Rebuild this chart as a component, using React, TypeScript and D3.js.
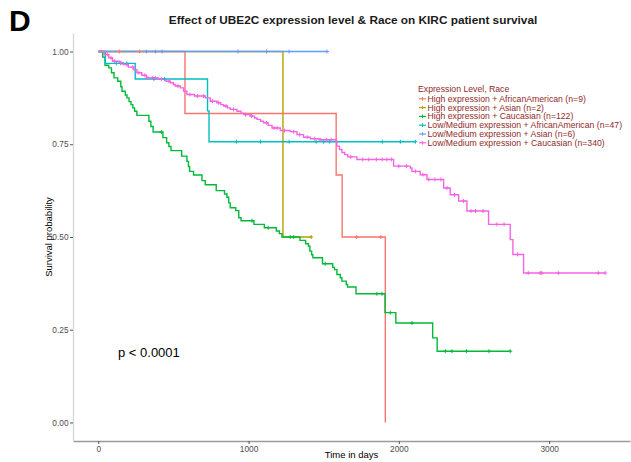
import React, { useRef, useEffect } from "react";
import * as d3 from "d3";

// group labels / colours (ggplot hue palette)
const groups = [
  "High expression + AfricanAmerican (n=9)",
  "High expression + Asian (n=2)",
  "High expression + Caucasian (n=122)",
  "Low/Medium expression + AfricanAmerican (n=47)",
  "Low/Medium expression + Asian (n=6)",
  "Low/Medium expression + Caucasian (n=340)",
];
const colors = ["#F8766D", "#B79F00", "#00BA38", "#00BFC4", "#619CFF", "#F564E3"];

// [time of drop, survival after drop]
const redSteps = [[577, 0.833], [1583, 0.667], [1623, 0.5], [1910, 0]];
const yellowSteps = [[1229, 0.5]];
const greenSteps = [
  [30, 0.985], [45, 0.963], [70, 0.956], [88, 0.943], [105, 0.929], [130, 0.92], [150, 0.905],
  [158, 0.893], [180, 0.883], [191, 0.875], [205, 0.865], [218, 0.857], [230, 0.848], [242, 0.839],
  [257, 0.828], [337, 0.812], [350, 0.798], [365, 0.783], [430, 0.768], [455, 0.754], [470, 0.744],
  [484, 0.733], [555, 0.718], [590, 0.704], [600, 0.69], [608, 0.677], [634, 0.667], [690, 0.652],
  [712, 0.641], [785, 0.625], [840, 0.616], [856, 0.607], [868, 0.592], [878, 0.579], [915, 0.571],
  [935, 0.552], [950, 0.544], [1036, 0.534], [1105, 0.525], [1185, 0.516], [1205, 0.509],
  [1222, 0.5], [1342, 0.491], [1380, 0.482], [1399, 0.475], [1408, 0.462], [1420, 0.452],
  [1428, 0.444], [1492, 0.428], [1560, 0.418], [1572, 0.412], [1588, 0.399], [1610, 0.39],
  [1621, 0.381], [1650, 0.372], [1659, 0.365], [1715, 0.347], [1908, 0.296], [1980, 0.268],
  [2225, 0.228], [2255, 0.192],
];
const cyanSteps = [[47, 0.968], [246, 0.926], [727, 0.84], [737, 0.757]];
const blueSteps: number[][] = [];
const magentaSteps = [
  [40, 0.992], [70, 0.983], [95, 0.974], [140, 0.97], [165, 0.965], [200, 0.958], [235, 0.951],
  [257, 0.943], [290, 0.936], [320, 0.929], [400, 0.925], [450, 0.92], [479, 0.916], [500, 0.911],
  [512, 0.907], [546, 0.902], [568, 0.893], [590, 0.884], [640, 0.88], [712, 0.875], [745, 0.866],
  [790, 0.862], [815, 0.857], [834, 0.853], [860, 0.848], [878, 0.844], [923, 0.839], [950, 0.834],
  [967, 0.83], [1011, 0.826], [1040, 0.821], [1056, 0.817], [1080, 0.812], [1100, 0.808],
  [1130, 0.801], [1156, 0.794], [1211, 0.787], [1277, 0.784], [1322, 0.776], [1366, 0.769],
  [1411, 0.765], [1470, 0.762], [1583, 0.758], [1588, 0.745], [1605, 0.736], [1621, 0.728],
  [1640, 0.722], [1660, 0.716], [1721, 0.709], [1965, 0.691], [2076, 0.686], [2087, 0.677],
  [2142, 0.668], [2187, 0.655], [2298, 0.632], [2342, 0.614], [2398, 0.597], [2453, 0.57],
  [2597, 0.534], [2741, 0.493], [2759, 0.453], [2830, 0.403],
];

// last follow-up time per group
const endTimes = [1910, 1417, 2741, 2110, 1522, 3373];

// censored times
const redCensor = [140, 275, 1720, 1880];
const yellowCensor = [1417];
const greenCensor = [420, 1023, 1131, 1277, 1300, 1510, 1854, 1888, 1943, 2087, 2309, 2353, 2450, 2600, 2741];
const cyanCensor = [120, 150, 190, 370, 440, 920, 1080, 1270, 1450, 1500, 1540, 1890, 2010, 2110];
const blueCensor = [320, 380, 425, 930, 1120, 1270, 1522];
const magentaCensor = [
  60, 85, 110, 150, 190, 230, 270, 310, 330, 360, 380, 420, 470, 530, 610, 660, 700, 760, 800, 850,
  900, 980, 1020, 1120, 1170, 1190, 1240, 1300, 1340, 1390, 1440, 1480, 1520, 1550, 1680, 1760,
  1800, 1850, 1890, 1920, 1950, 2000, 2050, 2110, 2160, 2200, 2240, 2280, 2320, 2370, 2430, 2480,
  2510, 2560, 2652, 2700, 2790, 2861, 2940, 2950, 3061, 3327, 3373,
];

const allSteps = [redSteps, yellowSteps, greenSteps, cyanSteps, blueSteps, magentaSteps];
const allCensor = [redCensor, yellowCensor, greenCensor, cyanCensor, blueCensor, magentaCensor];

const xTicks = [0, 1000, 2000, 3000];
const yTicks = [0, 0.25, 0.5, 0.75, 1];

const FONT = "Liberation Sans, Arial, Helvetica, sans-serif";

const W = 631;
const H = 462;
const left = 73;
const right = 630;
const top = 33;
const bottom = 441;

const survAt = (steps: number[][], t: number) => {
  let s = 1;
  for (const [st, sv] of steps) if (st <= t) s = sv;
  return s;
};

const App: React.FC = () => {
  const xAxisRef = useRef<SVGGElement | null>(null);
  const yAxisRef = useRef<SVGGElement | null>(null);

  const x = d3.scaleLinear().domain([-168, 3538]).range([left, right]);
  const y = d3.scaleLinear().domain([-0.05, 1.05]).range([bottom, top]);

  useEffect(() => {
    if (xAxisRef.current) {
      const g = d3.select(xAxisRef.current);
      g.selectAll("*").remove();
      g.call(d3.axisBottom(x).tickValues(xTicks).tickFormat(d3.format("d")).tickSize(3).tickSizeOuter(0).tickPadding(2));
      g.select(".domain").attr("stroke", "#9a9a9a").attr("stroke-width", 1.3);
      g.selectAll(".tick line").attr("stroke", "#555");
      g.selectAll(".tick text").attr("fill", "#4D4D4D").style("font-size", "8.3px").style("font-family", FONT);
    }
    if (yAxisRef.current) {
      const g = d3.select(yAxisRef.current);
      g.selectAll("*").remove();
      g.call(d3.axisLeft(y).tickValues(yTicks).tickFormat(d3.format(".2f")).tickSize(3).tickSizeOuter(0).tickPadding(1.5));
      g.select(".domain").attr("stroke", "#d8d8d8").attr("stroke-width", 1.3);
      g.selectAll(".tick line").attr("stroke", "#555");
      g.selectAll(".tick text").attr("fill", "#4D4D4D").style("font-size", "8.3px").style("font-family", FONT);
    }
  }, []);

  const line = d3
    .line<number[]>()
    .x((d) => x(d[0]))
    .y((d) => y(d[1]))
    .curve(d3.curveStepAfter);

  const curves = allSteps.map((steps, i) => {
    const pts: number[][] = [[0, 1], ...steps];
    const last = pts[pts.length - 1];
    if (endTimes[i] > last[0]) pts.push([endTimes[i], last[1]]);
    return line(pts) || "";
  });

  const legendX = 418;
  const legendY = 98.8;
  const legendStep = 8.8;
  const maroon = "#8f2a2a";

  return (
    <svg width={W} height={H} style={{ position: "absolute", left: 0, top: 0, background: "#fff" }} fontFamily={FONT}>
      <text x={9} y={31} fontSize={30} fontWeight="bold" fill="#000">D</text>
      <text x={353} y={24} fontSize={11.8} fontWeight="bold" textAnchor="middle" fill="#1a1a1a">
        Effect of UBE2C expression level &amp; Race on KIRC patient survival
      </text>

      <g ref={xAxisRef} transform={`translate(0,${bottom})`} />
      <g ref={yAxisRef} transform={`translate(${left},0)`} />

      {curves.map((p, i) => (
        <path key={i} d={p} fill="none" stroke={colors[i]} strokeWidth={1.4} />
      ))}
      {allCensor.map((cs, i) => (
        <g key={i} stroke={colors[i]} strokeWidth={1}>
          {cs.map((t, j) => {
            const cx = x(t);
            const cy = y(survAt(allSteps[i], t));
            return (
              <g key={j}>
                <line x1={cx} x2={cx} y1={cy - 2} y2={cy + 2} />
                <line x1={cx - 2} x2={cx + 2} y1={cy} y2={cy} />
              </g>
            );
          })}
        </g>
      ))}

      <text x={118} y={357} fontSize={13} fill="#000">p &lt; 0.0001</text>

      <text x={(left + right) / 2} y={458} fontSize={9.5} textAnchor="middle" fill="#000">Time in days</text>
      <text
        transform={`translate(52,${(top + bottom) / 2}) rotate(-90)`}
        fontSize={9.5}
        textAnchor="middle"
        fill="#000"
      >
        Survival probability
      </text>

      <text x={legendX} y={legendY - 6.5} fontSize={8.7} fill={maroon}>Expression Level, Race</text>
      {groups.map((g, i) => {
        const cy = legendY + i * legendStep;
        return (
          <g key={g}>
            <line x1={419} x2={426} y1={cy} y2={cy} stroke={colors[i]} strokeWidth={1.2} />
            <line x1={422.5} x2={422.5} y1={cy - 1.8} y2={cy + 1.8} stroke={colors[i]} strokeWidth={1} />
            <text x={427.5} y={cy + 3} fontSize={8.7} fill={maroon}>{g}</text>
          </g>
        );
      })}
    </svg>
  );
};

export default App;
